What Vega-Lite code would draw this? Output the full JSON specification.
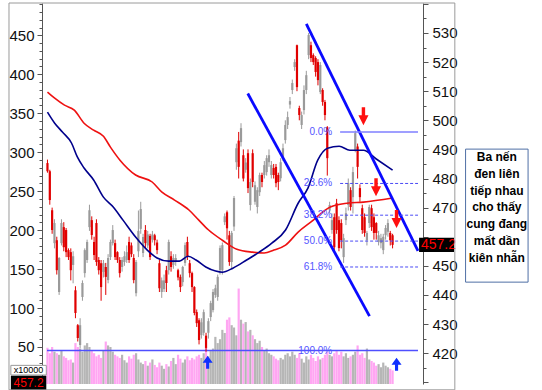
{
"$schema": "https://vega.github.io/schema/vega-lite/v6.json",
"width": 381, "height": 381,
"autosize": "none",
"padding": {"left": 42, "top": 3, "right": 119, "bottom": 6},
"background": "white",
"config": {"view": {"stroke": null}, "font": "Liberation Sans"},
"datasets": {
"candles": [
{"i":1,"o":485.3,"h":486.5,"l":482,"c":482.5,"vol":49},
{"i":2,"o":482.5,"h":483,"l":471,"c":472.6,"vol":42},
{"i":3,"o":469.1,"h":470,"l":461,"c":462.3,"vol":50},
{"i":4,"o":457.8,"h":466,"l":456,"c":464.7,"vol":44},
{"i":5,"o":458.8,"h":460,"l":447,"c":448.5,"vol":42},
{"i":6,"o":441,"h":453,"l":440,"c":452.7,"vol":40},
{"i":7,"o":457.8,"h":466,"l":457,"c":464.7,"vol":45},
{"i":8,"o":463.3,"h":465,"l":455,"c":456.4,"vol":38},
{"i":9,"o":462.3,"h":463,"l":453,"c":454.7,"vol":36},
{"i":10,"o":455.4,"h":456,"l":452,"c":453,"vol":33},
{"i":11,"o":454.7,"h":456,"l":445,"c":448.5,"vol":34},
{"i":12,"o":450.3,"h":455,"l":444,"c":453.3,"vol":30},
{"i":13,"o":441.6,"h":443,"l":432,"c":433.8,"vol":55},
{"i":14,"o":429.6,"h":430,"l":424,"c":425.2,"vol":50},
{"i":15,"o":422.8,"h":432,"l":421.7,"c":429.6,"vol":48},
{"i":16,"o":439.3,"h":445,"l":438,"c":444.1,"vol":44},
{"i":17,"o":447.5,"h":456,"l":446,"c":455.4,"vol":52},
{"i":18,"o":452,"h":459,"l":451,"c":458.2,"vol":55},
{"i":19,"o":463.3,"h":471,"l":462,"c":469.1,"vol":50},
{"i":20,"o":465.7,"h":467,"l":459,"c":460.6,"vol":46},
{"i":21,"o":458.2,"h":460,"l":452,"c":453.7,"vol":42},
{"i":22,"o":464.7,"h":466,"l":450,"c":451.3,"vol":38},
{"i":23,"o":452,"h":453,"l":447,"c":448.5,"vol":40},
{"i":24,"o":450.9,"h":452,"l":438,"c":442.7,"vol":36},
{"i":25,"o":447.9,"h":452,"l":446,"c":450.9,"vol":45},
{"i":26,"o":449.6,"h":451,"l":440,"c":446.2,"vol":57},
{"i":27,"o":445.1,"h":454,"l":444,"c":452.7,"vol":52},
{"i":28,"o":453,"h":459,"l":452,"c":458.2,"vol":50},
{"i":29,"o":457.8,"h":464,"l":457,"c":462.3,"vol":44},
{"i":30,"o":457.8,"h":459,"l":452,"c":453,"vol":40},
{"i":31,"o":454.7,"h":455,"l":451,"c":452,"vol":38},
{"i":32,"o":452,"h":453,"l":446,"c":447.5,"vol":36},
{"i":33,"o":449.6,"h":453,"l":448,"c":452,"vol":40},
{"i":34,"o":451.3,"h":455,"l":450,"c":453.3,"vol":33},
{"i":35,"o":452,"h":457,"l":451,"c":454.7,"vol":30},
{"i":36,"o":458.2,"h":460,"l":451,"c":452,"vol":38},
{"i":37,"o":457,"h":458,"l":453,"c":454,"vol":35},
{"i":38,"o":452.7,"h":454,"l":444,"c":445.1,"vol":40},
{"i":39,"o":440.6,"h":452,"l":439.5,"c":451.3,"vol":42},
{"i":40,"o":455,"h":469,"l":453,"c":462,"vol":34},
{"i":41,"o":462.7,"h":472,"l":461,"c":469.5,"vol":30},
{"i":42,"o":454.4,"h":461,"l":453,"c":459.9,"vol":28},
{"i":43,"o":462.3,"h":464,"l":456,"c":457.8,"vol":32},
{"i":44,"o":457,"h":462,"l":456,"c":460.8,"vol":26},
{"i":45,"o":460.3,"h":461,"l":452,"c":453,"vol":30},
{"i":46,"o":459,"h":462,"l":458,"c":460.8,"vol":34},
{"i":47,"o":460.5,"h":461,"l":457,"c":458.8,"vol":27},
{"i":48,"o":458,"h":459,"l":454,"c":455.4,"vol":24},
{"i":49,"o":450.9,"h":452,"l":441,"c":442.3,"vol":30},
{"i":50,"o":441,"h":446,"l":439,"c":445,"vol":26},
{"i":51,"o":442,"h":447,"l":441,"c":445,"vol":22},
{"i":52,"o":448.5,"h":450,"l":441,"c":444.1,"vol":28},
{"i":53,"o":448.5,"h":459,"l":447,"c":458.2,"vol":25},
{"i":54,"o":453.3,"h":455,"l":448,"c":449.6,"vol":32},
{"i":55,"o":450.3,"h":454,"l":449,"c":452.7,"vol":36},
{"i":56,"o":451.3,"h":454,"l":450,"c":452.7,"vol":28},
{"i":57,"o":448.5,"h":449,"l":445,"c":446,"vol":40},
{"i":58,"o":446.2,"h":447,"l":441,"c":442.7,"vol":35},
{"i":59,"o":444.4,"h":450,"l":443,"c":449.6,"vol":30},
{"i":60,"o":451,"h":458,"l":450,"c":457.1,"vol":34},
{"i":61,"o":458.2,"h":460,"l":452,"c":453,"vol":38},
{"i":62,"o":450.9,"h":452,"l":446,"c":447.5,"vol":33},
{"i":63,"o":447.5,"h":448,"l":441,"c":442.7,"vol":36},
{"i":64,"o":442.7,"h":443,"l":433,"c":433.8,"vol":34},
{"i":65,"o":434.1,"h":435,"l":429,"c":430.3,"vol":38},
{"i":66,"o":431.3,"h":432,"l":423,"c":424.5,"vol":40},
{"i":67,"o":426.2,"h":432,"l":425,"c":430.6,"vol":36},
{"i":68,"o":427,"h":435,"l":426,"c":434.1,"vol":42},
{"i":69,"o":426,"h":427,"l":420.5,"c":421.8,"vol":50},
{"i":70,"o":427,"h":432,"l":425,"c":431,"vol":38},
{"i":71,"o":432.4,"h":438,"l":431,"c":437.2,"vol":45},
{"i":72,"o":434.8,"h":442,"l":434,"c":441,"vol":48},
{"i":73,"o":440,"h":443.5,"l":439,"c":442.3,"vol":63},
{"i":74,"o":439.3,"h":447,"l":438,"c":446.2,"vol":55},
{"i":75,"o":448.5,"h":457,"l":447,"c":456.1,"vol":60},
{"i":76,"o":448.5,"h":458,"l":447,"c":457.1,"vol":72},
{"i":77,"o":465,"h":468,"l":464,"c":467,"vol":68},
{"i":78,"o":468.4,"h":469,"l":459,"c":462.9,"vol":85},
{"i":79,"o":460.5,"h":462,"l":450,"c":451.3,"vol":88},
{"i":80,"o":451.3,"h":462,"l":449,"c":461.3,"vol":78},
{"i":81,"o":463.5,"h":474,"l":462,"c":473.3,"vol":75},
{"i":82,"o":485.6,"h":492,"l":483,"c":490.4,"vol":65},
{"i":83,"o":493,"h":496,"l":480,"c":484,"vol":125},
{"i":84,"o":492.5,"h":499,"l":491,"c":497.3,"vol":85},
{"i":85,"o":488,"h":490,"l":479,"c":480,"vol":80},
{"i":86,"o":483,"h":487,"l":482,"c":485.5,"vol":82},
{"i":87,"o":488.7,"h":490,"l":475,"c":476.7,"vol":70},
{"i":88,"o":470.9,"h":480,"l":469,"c":478.8,"vol":72},
{"i":89,"o":488.7,"h":490,"l":477,"c":478.8,"vol":65},
{"i":90,"o":472,"h":479,"l":471,"c":477.7,"vol":60},
{"i":91,"o":470.2,"h":477,"l":468,"c":476,"vol":55},
{"i":92,"o":475.3,"h":482,"l":474,"c":481.2,"vol":58},
{"i":93,"o":481.2,"h":482,"l":477,"c":478.8,"vol":50},
{"i":94,"o":481.2,"h":486,"l":480,"c":484.6,"vol":45},
{"i":95,"o":482.2,"h":488,"l":481,"c":487,"vol":48},
{"i":96,"o":485.6,"h":490,"l":484,"c":488,"vol":42},
{"i":97,"o":481.2,"h":486,"l":480,"c":484.6,"vol":40},
{"i":98,"o":483.6,"h":485,"l":480,"c":481.2,"vol":38},
{"i":99,"o":484,"h":485,"l":477,"c":478.4,"vol":35},
{"i":100,"o":481.2,"h":482,"l":476,"c":478.8,"vol":33},
{"i":101,"o":480.1,"h":487,"l":479,"c":485.6,"vol":36},
{"i":102,"o":487.4,"h":492,"l":486,"c":490.4,"vol":34},
{"i":103,"o":493.2,"h":500,"l":492,"c":498.4,"vol":40},
{"i":104,"o":498.4,"h":503,"l":497,"c":501.1,"vol":42},
{"i":105,"o":505.4,"h":508,"l":504,"c":506.6,"vol":38},
{"i":106,"o":510.4,"h":514,"l":509,"c":512.8,"vol":44},
{"i":107,"o":518.3,"h":521,"l":517,"c":520,"vol":40},
{"i":108,"o":525.8,"h":526,"l":510,"c":511.4,"vol":36},
{"i":109,"o":504.2,"h":505,"l":500,"c":501.8,"vol":42},
{"i":110,"o":498.4,"h":503,"l":497,"c":501.8,"vol":35},
{"i":111,"o":503.5,"h":512,"l":502,"c":510.4,"vol":30},
{"i":112,"o":510.4,"h":517,"l":509,"c":515.5,"vol":38},
{"i":113,"o":522.4,"h":530,"l":521,"c":529.3,"vol":34},
{"i":114,"o":525.8,"h":527,"l":520,"c":521.4,"vol":40},
{"i":115,"o":522.4,"h":523,"l":519,"c":520,"vol":36},
{"i":116,"o":521.4,"h":522,"l":515,"c":516.6,"vol":32},
{"i":117,"o":520,"h":521,"l":512,"c":513.8,"vol":38},
{"i":118,"o":509.7,"h":520,"l":509,"c":519,"vol":34},
{"i":119,"o":510.4,"h":511,"l":505,"c":506.3,"vol":36},
{"i":120,"o":506.3,"h":507,"l":500,"c":501.8,"vol":40},
{"i":121,"o":497.6,"h":498,"l":481,"c":487,"vol":44},
{"i":122,"o":469.1,"h":472,"l":468,"c":470.9,"vol":40},
{"i":123,"o":462.3,"h":468,"l":461,"c":465.7,"vol":38},
{"i":124,"o":466.7,"h":468,"l":455,"c":456.4,"vol":42},
{"i":125,"o":471.5,"h":473,"l":461,"c":462.3,"vol":46},
{"i":126,"o":465.7,"h":467,"l":455,"c":456.1,"vol":40},
{"i":127,"o":464.7,"h":466,"l":456,"c":458.8,"vol":44},
{"i":128,"o":453,"h":461,"l":451,"c":459.5,"vol":38},
{"i":129,"o":465.7,"h":470,"l":464,"c":468.1,"vol":42},
{"i":130,"o":470.9,"h":480,"l":469,"c":478.4,"vol":36},
{"i":131,"o":476,"h":477,"l":469,"c":470.2,"vol":38},
{"i":132,"o":473.6,"h":484,"l":468,"c":482.2,"vol":40},
{"i":133,"o":489.8,"h":496.5,"l":489,"c":495.6,"vol":44},
{"i":134,"o":491,"h":492,"l":480,"c":484,"vol":52},
{"i":135,"o":476.7,"h":478,"l":472,"c":473.6,"vol":40},
{"i":136,"o":469.8,"h":471,"l":461,"c":462.3,"vol":42},
{"i":137,"o":466.7,"h":468,"l":460,"c":461.3,"vol":36},
{"i":138,"o":458.8,"h":462,"l":457,"c":461.3,"vol":48},
{"i":139,"o":464.7,"h":471,"l":463,"c":470.2,"vol":34},
{"i":140,"o":469.8,"h":471,"l":462,"c":463.3,"vol":32},
{"i":141,"o":466.7,"h":468,"l":459,"c":461.3,"vol":30},
{"i":142,"o":464.7,"h":465,"l":459,"c":461.3,"vol":26},
{"i":143,"o":458.2,"h":462,"l":457,"c":460.5,"vol":28},
{"i":144,"o":457.8,"h":461,"l":456,"c":459.5,"vol":24},
{"i":145,"o":455.4,"h":461,"l":454,"c":460,"vol":30},
{"i":146,"o":460.5,"h":464,"l":459,"c":463,"vol":26},
{"i":147,"o":461.7,"h":466,"l":460,"c":464.7,"vol":24},
{"i":148,"o":461.3,"h":462,"l":457,"c":458.8,"vol":22},
{"i":149,"o":460.5,"h":461,"l":456,"c":457.2,"vol":20}
],
"ma_red": [
{"i":1,"v":509.7},{"i":4.1,"v":507.6},{"i":8.3,"v":505.2},{"i":12.5,"v":503.5},{"i":16.7,"v":499.0},{"i":20.8,"v":496.6},{"i":25,"v":494.5},{"i":28,"v":490.8},{"i":32.1,"v":486.3},{"i":38.8,"v":481.2},{"i":45.9,"v":478.8},{"i":50.1,"v":475.3},{"i":55.5,"v":472.6},{"i":61.8,"v":469.1},{"i":65.9,"v":465.7},{"i":70.1,"v":462.3},{"i":76,"v":458.8},{"i":82.2,"v":455.7},{"i":88.9,"v":454.7},{"i":93.9,"v":454.4},{"i":98.1,"v":455.4},{"i":103.1,"v":457.1},{"i":108.5,"v":461.6},{"i":113.9,"v":465.0},{"i":122.3,"v":470.2},{"i":129.4,"v":471.5},{"i":136.5,"v":471.9},{"i":149,"v":473.3}
],
"ma_navy": [
{"i":1,"v":502.8},{"i":4.1,"v":499.0},{"i":7.5,"v":495.9},{"i":11.3,"v":492.2},{"i":13.8,"v":487.4},{"i":16.7,"v":483.6},{"i":20.8,"v":479.5},{"i":25,"v":473.6},{"i":29.2,"v":470.2},{"i":33.4,"v":465.7},{"i":38.8,"v":459.9},{"i":43.8,"v":455.4},{"i":48,"v":452.7},{"i":53,"v":451.6},{"i":57.6,"v":451.6},{"i":61.3,"v":453.3},{"i":64.7,"v":452.0},{"i":68.9,"v":449.6},{"i":73.1,"v":448.2},{"i":76,"v":447.8},{"i":80.5,"v":449.2},{"i":86.4,"v":452.0},{"i":91.8,"v":454.7},{"i":97.2,"v":457.8},{"i":103.1,"v":462.3},{"i":108.5,"v":471.5},{"i":112.7,"v":476.7},{"i":116.9,"v":486.3},{"i":121.1,"v":490.4},{"i":126.1,"v":491.1},{"i":130.7,"v":489.7},{"i":136.5,"v":489.7},{"i":142,"v":486.7},{"i":149,"v":482.9}
],
"channel": [
{"g":"upper","i":112,"v":533.1},{"g":"upper","i":159.9,"v":455.1},
{"g":"lower","i":86.9,"v":509.2},{"g":"lower","i":139.1,"v":432.7}
],
"fib": [
{"lab":"0.0%","v":496.0,"a":126.5,"b":159.9},
{"lab":"23.6%","v":478.3,"a":126.5,"b":159.9},
{"lab":"38.2%","v":467.4,"a":126.5,"b":159.9},
{"lab":"50.0%","v":458.5,"a":126.5,"b":159.9},
{"lab":"61.8%","v":449.6,"a":126.5,"b":159.9},
{"lab":"100.0%","v":420.9,"a":0.8,"b":159.9}
],
"arrows": [
{"i":136.5,"v":501.4,"d":"down"},
{"i":141.9,"v":477.0,"d":"down"},
{"i":150.7,"v":466.1,"d":"down"},
{"i":69.7,"v":416.9,"d":"up"},
{"i":150.7,"v":416.2,"d":"up"}
],
"last": [{"price":457.2}]
},
"layer": [
{
"data": {"name": "candles"},
"mark": {"type": "bar", "width": 2.2},
"encoding": {
"x": {"field": "i", "type": "quantitative",
"scale": {"domain": [0.8, 159.9], "nice": false, "zero": false},
"axis": {"title": null, "labels": false, "grid": false, "tickSize": 3,
"values": [4,8,12,16,20,24,28,32,36,40,44,48,52,56,60,64,68,72,76,80,84,88,92,96,100,104,108,112,116,120,124,128,132,136,140,144,148,152,156],
"domainColor": "#777", "tickColor": "#777"}},
"y": {"field": "vol", "type": "quantitative",
"scale": {"domain": [2.5, 491.5], "nice": false, "zero": false},
"axis": {"orient": "left", "title": null, "grid": false,
"values": [10,20,30,40,50,60,70,80,90,100,110,120,130,140,150,160,170,180,190,200,210,220,230,240,250,260,270,280,290,300,310,320,330,340,350,360,370,380,390,400,410,420,430,440,450,460,470,480,490],
"labelExpr": "datum.value % 50 === 0 ? datum.label : ''",
"tickSize": {"condition": {"test": "datum.value % 50 === 0", "value": 5}, "value": 3},
"labelOverlap": false, "labelFontSize": 15, "labelColor": "#111",
"labelFont": "Liberation Sans", "labelPadding": 3,
"domainColor": "#555", "tickColor": "#555"}},
"y2": {"datum": 2.5},
"color": {"condition": {"test": "datum.o > datum.c", "value": "#ffa6f2"}, "value": "#b6b6b6"}
}
},
{
"data": {"name": "fib"},
"transform": [{"filter": "datum.lab === '100.0%'"}],
"mark": {"type": "rule", "color": "#4f4fff", "strokeWidth": 1.4},
"encoding": {
"x": {"field": "a", "type": "quantitative", "axis": null},
"x2": {"field": "b"},
"y": {"field": "v", "type": "quantitative",
"scale": {"domain": [409.4, 540.3], "nice": false, "zero": false},
"axis": {"orient": "right", "title": null, "grid": false,
"values": [410,415,420,425,430,435,440,445,450,455,460,465,470,475,480,485,490,495,500,505,510,515,520,525,530,535,540],
"labelExpr": "datum.value % 10 === 0 && datum.value >= 420 && datum.value <= 530 && datum.value !== 460 ? datum.label : ''",
"tickSize": {"condition": {"test": "datum.value % 10 === 0", "value": 5}, "value": 3},
"labelOverlap": false, "labelFontSize": 15, "labelColor": "#111",
"labelFont": "Liberation Sans", "labelPadding": 4,
"domainColor": "#555", "tickColor": "#555"}}
}
},
{
"data": {"name": "candles"},
"mark": {"type": "rule", "strokeWidth": 1},
"encoding": {
"x": {"field": "i", "type": "quantitative", "axis": null},
"y": {"field": "l", "type": "quantitative", "axis": null, "scale": {"domain": [409.4, 540.3], "nice": false, "zero": false}},
"y2": {"field": "h"},
"color": {"condition": {"test": "datum.o > datum.c", "value": "#e00000"}, "value": "#9a9a9a"}
}
},
{
"data": {"name": "candles"},
"mark": {"type": "bar", "width": 2.2},
"encoding": {
"x": {"field": "i", "type": "quantitative", "axis": null},
"y": {"field": "o", "type": "quantitative", "axis": null, "scale": {"domain": [409.4, 540.3], "nice": false, "zero": false}},
"y2": {"field": "c"},
"color": {"condition": {"test": "datum.o > datum.c", "value": "#e00000"}, "value": "#9a9a9a"}
}
},
{
"data": {"name": "ma_red"},
"mark": {"type": "line", "color": "#ee1111", "strokeWidth": 1.6, "interpolate": "monotone"},
"encoding": {
"x": {"field": "i", "type": "quantitative", "axis": null},
"y": {"field": "v", "type": "quantitative", "axis": null, "scale": {"domain": [409.4, 540.3], "nice": false, "zero": false}}
}
},
{
"data": {"name": "ma_navy"},
"mark": {"type": "line", "color": "#00008c", "strokeWidth": 1.6, "interpolate": "monotone"},
"encoding": {
"x": {"field": "i", "type": "quantitative", "axis": null},
"y": {"field": "v", "type": "quantitative", "axis": null, "scale": {"domain": [409.4, 540.3], "nice": false, "zero": false}}
}
},
{
"data": {"name": "channel"},
"mark": {"type": "line", "color": "#0a0aff", "strokeWidth": 2.8},
"encoding": {
"x": {"field": "i", "type": "quantitative", "axis": null},
"y": {"field": "v", "type": "quantitative", "axis": null, "scale": {"domain": [409.4, 540.3], "nice": false, "zero": false}},
"detail": {"field": "g", "type": "nominal"}
}
},
{
"data": {"name": "fib"},
"transform": [{"filter": "datum.lab === '0.0%'"}],
"mark": {"type": "rule", "color": "#7f7fff", "strokeWidth": 1.6},
"encoding": {
"x": {"field": "a", "type": "quantitative", "axis": null},
"x2": {"field": "b"},
"y": {"field": "v", "type": "quantitative", "axis": null, "scale": {"domain": [409.4, 540.3], "nice": false, "zero": false}}
}
},
{
"data": {"name": "fib"},
"transform": [{"filter": "datum.lab !== '0.0%' && datum.lab !== '100.0%'"}],
"mark": {"type": "rule", "color": "#4a4af5", "strokeWidth": 1, "strokeDash": [3, 2]},
"encoding": {
"x": {"field": "a", "type": "quantitative", "axis": null},
"x2": {"field": "b"},
"y": {"field": "v", "type": "quantitative", "axis": null, "scale": {"domain": [409.4, 540.3], "nice": false, "zero": false}}
}
},
{
"data": {"name": "fib"},
"mark": {"type": "text", "align": "right", "baseline": "middle", "fontSize": 10, "color": "#5555ff", "font": "Liberation Sans"},
"encoding": {
"x": {"datum": 123.1, "type": "quantitative", "axis": null},
"y": {"field": "v", "type": "quantitative", "axis": null, "scale": {"domain": [409.4, 540.3], "nice": false, "zero": false}},
"text": {"field": "lab", "type": "nominal"}
}
},
{
"data": {"name": "arrows"},
"transform": [{"filter": "datum.d === 'down'"}],
"mark": {"type": "point", "filled": true, "opacity": 1, "size": 324, "color": "#ff1010", "strokeWidth": 0,
"shape": "M-0.19,-1L0.19,-1L0.19,-0.11L0.56,-0.11L0,1L-0.56,-0.11L-0.19,-0.11Z"},
"encoding": {
"x": {"field": "i", "type": "quantitative", "axis": null},
"y": {"field": "v", "type": "quantitative", "axis": null, "scale": {"domain": [409.4, 540.3], "nice": false, "zero": false}}
}
},
{
"data": {"name": "arrows"},
"transform": [{"filter": "datum.d === 'up'"}],
"mark": {"type": "point", "filled": true, "opacity": 1, "size": 169, "color": "#1030ff", "strokeWidth": 0,
"shape": "M0,-1L0.77,0.08L0.24,0.08L0.24,1L-0.24,1L-0.24,0.08L-0.77,0.08Z"},
"encoding": {
"x": {"field": "i", "type": "quantitative", "axis": null},
"y": {"field": "v", "type": "quantitative", "axis": null, "scale": {"domain": [409.4, 540.3], "nice": false, "zero": false}}
}
},
{
"data": {"name": "last"},
"mark": {"type": "point", "filled": true, "opacity": 1, "size": 1296, "color": "#000000", "strokeWidth": 0,
"shape": "M0.06,-0.4L2,-0.4L2,0.4L0.06,0.4Z"},
"encoding": {
"x": {"datum": 159.9, "type": "quantitative", "axis": null},
"y": {"field": "price", "type": "quantitative", "axis": null, "scale": {"domain": [409.4, 540.3], "nice": false, "zero": false}}
}
},
{
"data": {"name": "last"},
"mark": {"type": "text", "align": "left", "baseline": "middle", "dx": 3, "fontSize": 14, "color": "#ff0000", "font": "Liberation Sans"},
"encoding": {
"x": {"datum": 159.9, "type": "quantitative", "axis": null},
"y": {"field": "price", "type": "quantitative", "axis": null, "scale": {"domain": [409.4, 540.3], "nice": false, "zero": false}},
"text": {"field": "price", "type": "quantitative", "format": ".1f"}
}
},
{
"data": {"values": [{"k": 1}]},
"mark": {"type": "rect", "fill": "white", "stroke": "#4f6fa5", "strokeWidth": 1},
"encoding": {
"x": {"datum": 180.3, "type": "quantitative", "axis": null},
"x2": {"datum": 207.1},
"y": {"datum": 490.1, "type": "quantitative", "axis": null, "scale": {"domain": [409.4, 540.3], "nice": false, "zero": false}},
"y2": {"datum": 444.4}
}
},
{
"data": {"values": [{"k": 1}]},
"mark": {"type": "text", "align": "center", "baseline": "middle", "fontSize": 12, "fontWeight": "bold", "lineHeight": 16.8, "color": "#000", "font": "Liberation Sans",
"text": ["Ba nến", "đen liên", "tiếp nhau", "cho thấy", "cung đang", "mất dần", "kiên nhẫn"]},
"encoding": {
"x": {"datum": 193.7, "type": "quantitative", "axis": null},
"y": {"datum": 487.4, "type": "quantitative", "axis": null, "scale": {"domain": [409.4, 540.3], "nice": false, "zero": false}}
}
},
{
"data": {"values": [{"k": 1}]},
"mark": {"type": "rect", "fill": "white", "stroke": "#999", "strokeWidth": 1},
"encoding": {
"x": {"datum": -14.7, "type": "quantitative", "axis": null},
"x2": {"datum": 0.5},
"y": {"datum": 415.8, "type": "quantitative", "axis": null, "scale": {"domain": [409.4, 540.3], "nice": false, "zero": false}},
"y2": {"datum": 412.5}
}
},
{
"data": {"values": [{"k": 1}]},
"mark": {"type": "text", "align": "center", "baseline": "middle", "fontSize": 9, "color": "#000", "text": "x10000"},
"encoding": {
"x": {"datum": -7.1, "type": "quantitative", "axis": null},
"y": {"datum": 414.1, "type": "quantitative", "axis": null, "scale": {"domain": [409.4, 540.3], "nice": false, "zero": false}}
}
},
{
"data": {"values": [{"k": 1}]},
"mark": {"type": "rect", "fill": "black"},
"encoding": {
"x": {"datum": -14.7, "type": "quantitative", "axis": null},
"x2": {"datum": 0.5},
"y": {"datum": 412.2, "type": "quantitative", "axis": null, "scale": {"domain": [409.4, 540.3], "nice": false, "zero": false}},
"y2": {"datum": 406.5}
}
},
{
"data": {"values": [{"k": 1}]},
"mark": {"type": "text", "align": "center", "baseline": "middle", "fontSize": 12, "color": "#ff0000", "text": "457.2"},
"encoding": {
"x": {"datum": -7.1, "type": "quantitative", "axis": null},
"y": {"datum": 409.6, "type": "quantitative", "axis": null, "scale": {"domain": [409.4, 540.3], "nice": false, "zero": false}}
}
},
{
"data": {"values": [{"k": 1}]},
"mark": {"type": "rect", "fillOpacity": 0, "stroke": "#9a9a9a", "strokeWidth": 1},
"encoding": {
"x": {"datum": -15.5, "type": "quantitative", "axis": null},
"x2": {"datum": 175.7},
"y": {"datum": 540.3, "type": "quantitative", "axis": null, "scale": {"domain": [409.4, 540.3], "nice": false, "zero": false}},
"y2": {"datum": 407.4}
}
}
],
"resolve": {"scale": {"y": "independent"}, "axis": {"y": "independent"}}
}
